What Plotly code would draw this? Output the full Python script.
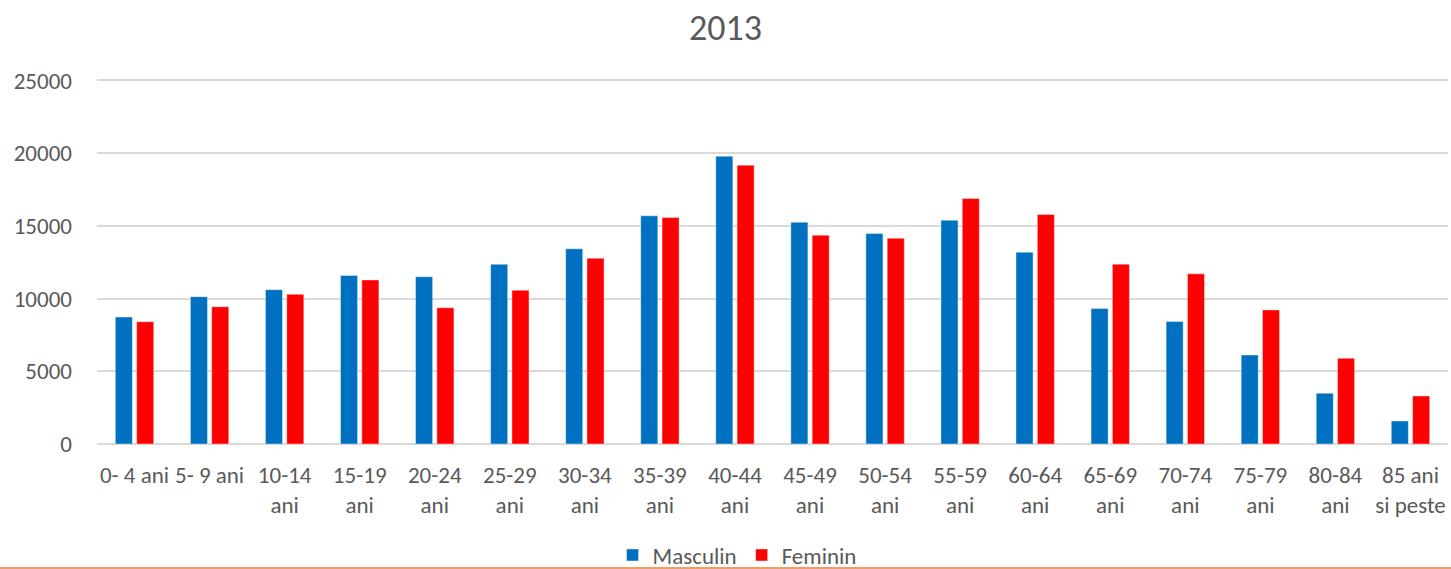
import plotly.graph_objects as go

categories = ["0- 4 ani", "5- 9 ani", "10-14<br>ani", "15-19<br>ani", "20-24<br>ani",
              "25-29<br>ani", "30-34<br>ani", "35-39<br>ani", "40-44<br>ani", "45-49<br>ani",
              "50-54<br>ani", "55-59<br>ani", "60-64<br>ani", "65-69<br>ani", "70-74<br>ani",
              "75-79<br>ani", "80-84<br>ani", "85 ani<br>si peste"]
masculin = [8730, 10130, 10610, 11590, 11500, 12360, 13420, 15690, 19790, 15250,
            14470, 15390, 13190, 9310, 8420, 6120, 3490, 1580]
feminin = [8410, 9440, 10290, 11280, 9370, 10570, 12780, 15570, 19170, 14360,
           14150, 16880, 15780, 12360, 11700, 9220, 5890, 3300]
y_ticks = [0, 5000, 10000, 15000, 20000, 25000]

W, H = 1451, 569
ML, MR, MT, MB = 97, 3, 79, 125
FONT = "Carlito, Lato, 'Open Sans', sans-serif"
TXT = "#595959"
FS = 23

fig = go.Figure()
fig.add_trace(go.Bar(x=categories, y=masculin, name="Masculin",
                     marker=dict(color="#0070C0", line=dict(color="rgba(255,255,255,0.5)", width=0.8))))
fig.add_trace(go.Bar(x=categories, y=feminin, name="Feminin",
                     marker=dict(color="#FF0000", line=dict(color="rgba(255,255,255,0.5)", width=0.8))))

plot_h = H - MT - MB
line_y = -(MB - 1) / plot_h
fig.add_shape(type="line", xref="paper", yref="paper",
              x0=-ML / (W - ML - MR), x1=1 + MR / (W - ML - MR),
              y0=line_y, y1=line_y,
              line=dict(color="#ED7D31", width=1.5))

fig.update_layout(
    width=W, height=H,
    margin=dict(l=ML, r=MR, t=MT, b=MB, autoexpand=False),
    paper_bgcolor="white", plot_bgcolor="white",
    barmode="group", bargap=0.432, bargroupgap=0.2,
    font=dict(family=FONT, color=TXT, size=FS),
    title=dict(text="2013", x=0.5, xref="container", xanchor="center",
               y=1 - 27 / H, yref="container", yanchor="middle",
               font=dict(size=36, color=TXT, family=FONT)),
    xaxis=dict(showgrid=False, showline=False, ticks="", tickangle=0, automargin=False,
               ticklabelstandoff=15, tickfont=dict(size=FS, color=TXT)),
    yaxis=dict(range=[0, 25100], tickvals=y_ticks, ticktext=[str(v) for v in y_ticks],
               showgrid=True, gridcolor="#D9D9D9", gridwidth=1.5, automargin=False,
               zeroline=True, zerolinecolor="#D9D9D9", zerolinewidth=1.5,
               showline=False, ticks="", ticklabelstandoff=24,
               tickfont=dict(size=FS, color=TXT)),
    legend=dict(orientation="h", x=(737 - ML) / (W - ML - MR), xanchor="center",
                yref="container", y=(H - 555) / H, yanchor="middle",
                font=dict(size=FS, color=TXT), itemwidth=30,
                bgcolor="rgba(0,0,0,0)"),
    showlegend=True,
)

fig.write_html("out.html", config={"displayModeBar": False},
               post_script="document.body.style.margin='0';document.body.style.padding='0';")
